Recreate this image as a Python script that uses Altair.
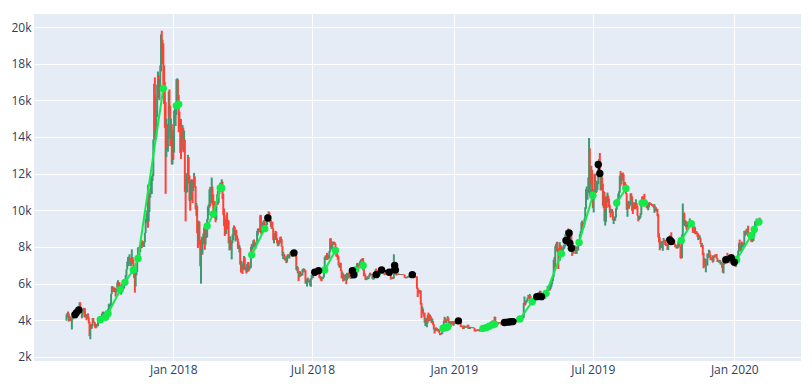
import altair as alt
import pandas as pd

# ---------------- daily candles (close / high / low), one row per month ----------------
START = "2017-08-15"
OPEN_FIRST = 4070

CLOSE = [
 4190,4380,4330,4160,4190,4090,4000,4090,4150,4350,4370,4350,4380,4380,4580,4570,4770,
 4950,4570,4600,4230,4380,4600,4600,4230,4230,4160,4190,4160,3880,3150,3640,3630,3680,4090,3910,3880,3610,3600,3790,3680,3930,3890,4210,4190,4160,4340,
 4400,4410,4310,4210,4320,4370,4440,4610,4770,4780,4820,5430,5640,5830,5680,5750,5600,5570,5700,6000,6010,5980,5900,5520,5750,5900,5780,5750,6150,6130,6470,
 6770,7080,7210,7380,7410,7020,7140,7460,7140,6620,6360,5950,6560,6640,7320,7870,7710,7790,8040,8200,8070,8250,8100,8250,8760,9320,9740,9910,9840,10060,
 10860,10910,11290,11650,11920,13750,16870,16130,14870,15060,16730,17280,16470,16620,17710,19500,19140,19110,17780,16620,15800,13830,14700,13930,13960,16100,15840,14610,14660,12950,14160,
 13660,14980,15200,15600,16900,17100,16300,15170,14600,14970,13410,13980,14360,13770,13820,11490,11190,11470,11610,12900,11600,10930,10870,11360,11260,11170,11440,11790,11300,10110,10230,
 9170,8830,9170,8200,6960,7750,7620,8270,8690,8620,8130,8930,8540,9480,10170,10230,11110,10400,11160,11230,10440,10000,10300,9810,9660,10370,10730,10400,
 10950,11090,11490,11510,11570,10770,9970,9400,9340,8870,9580,9210,9150,8260,8300,8340,7920,8220,8620,8920,8900,8720,8900,8550,8450,8170,7920,7950,7090,6840,6940,
 6810,7050,7420,6790,6770,6630,6910,7020,6770,6830,6940,7920,7890,8000,8360,8060,7900,8160,8290,8850,8920,8800,8940,9650,8860,9280,8990,9350,9390,9240,
 9070,9220,9740,9700,9860,9620,9370,9190,9310,9010,8420,8680,8720,8680,8470,8340,8060,8250,8250,8530,8420,8040,7560,7590,7480,7350,7370,7140,7470,7410,7490,
 7540,7640,7720,7510,7630,7650,7680,7620,7530,6790,6910,6580,6350,6640,6400,6510,6460,6710,6740,6770,6720,6050,6160,6180,6250,6090,6160,5900,6220,6400,
 6360,6620,6530,6600,6530,6600,6760,6720,6660,6310,6380,6250,6240,6270,6350,6740,7320,7380,7470,7330,7400,7400,7720,8400,8170,7930,8180,8230,8220,8180,7780,
 7620,7570,7430,7010,7030,6940,6720,6310,6540,6150,6240,6320,6260,6190,6270,6310,6580,6400,6490,6270,6490,6360,6530,6640,6720,6680,6930,7090,7040,6980,7040,
 7190,7270,7260,7370,6790,6530,6470,6230,6240,6290,6280,6330,6490,6480,6520,6500,6250,6340,6370,6490,6770,6720,6710,6590,6440,6470,6650,6640,6610,6630,
 6590,6540,6500,6590,6640,6600,6630,6670,6640,6590,6260,6280,6290,6280,6590,6600,6560,6500,6480,6490,6500,6490,6480,6490,6480,6480,6490,6490,6340,6330,6320,
 6370,6390,6360,6460,6420,6460,6530,6420,6360,6380,6390,6380,6350,5740,5650,5580,5560,5620,4870,4450,4600,4370,4310,3880,4010,3820,3860,4280,4280,4020,
 4210,4140,3870,3960,3760,3510,3420,3440,3560,3470,3420,3490,3320,3260,3240,3250,3550,3710,3860,4140,3890,4000,3990,4150,3880,3910,3650,3920,3820,3950,3740,
 3840,3940,3840,3860,3840,4080,4030,4040,4050,3700,3690,3650,3530,3680,3600,3630,3670,3630,3730,3550,3570,3630,3590,3620,3610,3600,3580,3440,3410,3460,3440,
 3470,3510,3420,3410,3430,3390,3380,3650,3650,3690,3620,3630,3620,3600,3620,3640,3670,3900,3910,3960,3920,3970,4140,3760,3830,3820,3830,3860,
 3860,3880,3850,3760,3900,3910,3930,3890,3960,3950,3890,3920,3910,3930,3960,4060,4020,4000,4030,4060,4000,4010,4020,4010,3920,3940,4080,4060,4120,4130,4120,
 4140,4880,4970,4910,5030,5050,5200,5320,5240,5320,5020,5070,5080,5170,5030,5230,5270,5300,5280,5330,5290,5400,5540,5460,5210,5280,5280,5270,5210,5350,
 5400,5500,5750,5830,5750,5700,5830,5980,6170,6360,7100,6840,7810,7990,8210,7880,7360,7260,8200,7990,7950,7630,7880,8000,8050,8670,8810,8720,8660,8270,8550,
 8560,8740,8210,7710,7820,7810,8000,7950,7630,8010,7920,8180,8230,8690,8840,8990,9320,9080,9270,9530,10140,10700,10860,11010,11780,13020,11180,12410,11980,10820,
 10580,10800,11960,11220,10980,11210,11470,12290,12570,12100,11350,11800,11390,10260,10890,9480,9690,10660,10530,10760,10600,10320,9910,9870,9990,9890,9480,9530,9510,9590,10090,
 10400,10520,10820,10980,11800,11460,11950,11970,11820,11290,11560,11380,10900,10050,10300,10360,10230,10320,10920,10760,10140,10130,10410,10140,10130,10370,10190,9720,9500,9580,9600,
 9770,10360,10620,10590,10580,10320,10490,10410,10340,10120,10160,10420,10360,10360,10310,10300,10240,10190,10280,10170,9990,10030,9700,8530,8430,8060,8200,8190,8040,8290,
 8340,8390,8230,8140,8130,7850,8210,8180,8590,8580,8260,8300,8280,8360,8150,8000,8090,7950,7960,8220,8240,8030,7470,7410,8660,9240,9550,9250,9430,9200,9200,
 9260,9310,9200,9410,9310,9360,9210,8800,8810,9040,8730,8820,8760,8640,8460,8490,8510,8200,8030,8080,7620,7280,7330,6910,7150,7170,7520,7430,7760,7570,
 7420,7320,7320,7250,7450,7550,7510,7540,7400,7230,7200,7240,7250,7070,7110,6880,6620,7280,7150,7190,7140,7510,7320,7260,7210,7200,7250,7320,7390,7250,7190,
 7200,6990,7340,7410,7410,7770,8160,8040,7820,8200,8020,8190,8110,8810,8820,8720,8930,8920,8710,8660,8740,8660,8390,8440,8370,8600,8910,9390,9290,9510,9350,
 9390,9340,9290,
]

HIGH = [
 4310,4400,4480,4370,4230,4200,4120,4150,4260,4380,4460,4390,4420,4400,4620,4640,4770,
 4980,4980,4720,4610,4450,4650,4680,4650,4320,4320,4330,4380,4160,3920,3750,3800,3760,4130,4120,3930,3890,3750,3800,3800,3980,3960,4210,4240,4220,4360,
 4470,4470,4430,4350,4360,4410,4470,4620,4880,4920,4870,5440,5860,5840,5840,5780,5770,5610,5710,6070,6190,6080,6070,5900,5770,5970,6000,5850,6190,6210,6470,
 6780,7200,7450,7480,7600,7400,7210,7870,7450,7310,6840,6500,6730,6780,7330,7970,8000,7850,8100,8280,8370,8300,8270,8320,8770,9520,9820,10000,11400,10200,
 10950,11190,11860,11660,11990,13860,16900,17250,16280,15500,16860,17570,17380,17160,17900,19600,19800,19300,19100,17900,17000,15900,15000,14700,14500,16500,16600,15700,15000,14700,14200,
 14410,15440,15570,15760,17150,17200,17150,16300,15390,14990,14980,14110,14660,14510,14350,13850,11680,12020,11840,13030,12900,11900,11570,11660,11700,11660,11620,12040,11850,11320,10400,
 10250,9150,9430,9380,8400,7880,8560,8510,8740,9070,8620,8990,8930,9520,10220,10320,11140,11280,11270,11790,11290,10870,10400,10500,9850,10420,10880,11060,
 11090,11090,11500,11520,11690,11570,10900,10100,9420,9530,9730,9890,9480,9440,8380,8580,8360,8280,8680,9050,9180,9100,8920,8940,8630,8470,8250,8110,7970,7250,7220,
 7010,7100,7510,7440,6930,6860,7070,7170,7180,6890,6990,8010,8160,8180,8360,8410,8170,8230,8290,8880,9000,9020,8960,9730,9750,9300,9300,9400,9470,9440,
 9250,9260,9790,9760,9950,9900,9670,9470,9370,9380,9030,8690,8760,8880,8840,8490,8360,8270,8380,8550,8570,8440,8040,7730,7630,7530,7400,7390,7530,7610,7560,
 7600,7700,7760,7750,7650,7700,7740,7690,7680,7540,6960,6920,6620,6680,6680,6550,6590,6780,6830,6820,6790,6730,6250,6250,6330,6270,6190,6170,6300,6480,
 6430,6650,6680,6790,6690,6650,6790,6790,6780,6680,6400,6390,6340,6300,6390,6740,7460,7540,7540,7680,7450,7560,7770,8460,8480,8310,8260,8290,8290,8270,8180,
 7800,7660,7580,7490,7060,7140,7140,6730,6620,6560,6460,6450,6520,6270,6590,6440,6590,6620,6540,6540,6500,6850,6550,6740,6790,6730,6940,7110,7140,7060,7080,
 7220,7310,7340,7390,7390,6790,6580,6480,6330,6340,6410,6340,6510,6600,6540,6530,6510,6390,6460,6540,6770,6820,6740,6710,6600,6540,6680,6780,6660,6640,
 6640,6600,6560,6590,6680,6640,6650,6740,6680,6650,6590,6320,6320,6370,7600,6710,6610,6570,6520,6510,6560,6520,6500,6520,6510,6500,6500,6500,6490,6360,6350,
 6380,6410,6400,6460,6480,6480,6550,6540,6440,6390,6400,6400,6400,6390,5780,5680,5590,5650,5620,4960,4750,4630,4390,4420,4120,4140,3900,4300,4420,4320,
 4310,4240,4140,4090,3960,3790,3530,3570,3620,3580,3480,3530,3490,3320,3270,3310,3640,3750,3980,4190,4140,4010,4050,4230,4150,3970,3910,3960,3940,3970,3960,
 3850,3950,3940,3870,3900,4090,4120,4110,4080,4070,3720,3700,3650,3720,3700,3660,3670,3680,3760,3750,3590,3640,3640,3630,3620,3620,3610,3580,3440,3480,3500,
 3480,3510,3510,3430,3440,3440,3410,3700,3680,3690,3690,3640,3650,3650,3640,3680,3680,3910,3950,3990,3970,3980,4200,4190,3860,3840,3870,3900,
 3880,3890,3880,3850,3910,3930,3960,3940,3970,3970,3950,3930,3930,3960,3970,4080,4070,4040,4040,4080,4080,4030,4040,4040,4010,3950,4090,4090,4130,4140,4140,
 4160,4950,5300,5050,5060,5120,5240,5390,5320,5440,5330,5100,5100,5170,5190,5240,5280,5350,5330,5330,5340,5420,5620,5590,5480,5320,5340,5310,5300,5370,
 5440,5540,5860,5880,5850,5800,5950,6000,6180,6410,7310,7450,8050,8170,8270,8290,7950,7380,8260,8100,8050,7980,7950,8130,8110,8680,8900,8820,8740,9010,8580,
 8600,8790,8740,8210,7900,7900,8100,8050,7970,8030,8020,8200,8290,8700,8860,9340,9440,9340,9290,9550,10170,11160,11300,11080,11790,13950,13380,12410,12430,12200,
 11160,10900,11960,12010,11430,11610,11530,12370,12800,13130,12100,11900,11830,11450,11050,11000,9990,10740,10800,10970,10810,10630,10300,10020,10090,10070,9940,9560,9620,9680,10110,
 10450,10640,10910,11040,11890,12140,11980,12030,12060,11970,11560,11540,11420,10920,10440,10520,10430,10480,10920,10930,10760,10230,10450,10420,10290,10600,10400,10250,9720,9650,9690,
 9850,10430,10740,10780,10630,10900,10520,10580,10450,10370,10200,10430,10440,10400,10370,10340,10300,10290,10340,10220,10170,10080,10080,9800,8750,8530,8270,8320,8230,8320,
 8490,8400,8390,8240,8170,8140,8300,8330,8630,8640,8800,8400,8420,8390,8370,8160,8120,8110,8080,8300,8320,8250,8050,7490,8680,10370,9790,9880,9460,9430,9380,
 9270,9370,9350,9560,9460,9420,9370,9220,8860,9130,9070,8850,8860,8780,8740,8540,8640,8510,8210,8220,8110,7690,7390,7360,7300,7320,7640,7630,7850,7800,
 7570,7430,7380,7540,7490,7560,7590,7570,7620,7400,7270,7260,7300,7260,7180,7140,6930,7360,7380,7230,7180,7520,7680,7330,7290,7280,7290,7360,7520,7400,7320,
 7250,7210,7410,7430,7540,7790,8210,8400,8050,8220,8290,8200,8200,8880,8890,8840,9000,8980,9160,8730,8760,8780,8670,8520,8440,8600,8950,9400,9400,9550,9520,
 9470,9470,9600,
]

LOW = [
 3980,4150,4230,3930,3980,4060,3950,3500,4040,4130,4340,4320,4320,4330,4360,4500,4560,
 4760,4480,4380,4110,4170,4380,4520,4160,4140,4000,4140,4090,3830,3140,2970,3530,3540,3690,3860,3870,3600,3560,3600,3670,3680,3860,3880,4170,4060,4130,
 4310,4360,4260,4170,4170,4300,4320,4440,4560,4700,4760,4820,5430,5560,5540,5570,5530,5300,5520,5630,5860,5760,5690,5500,5400,5700,5720,5700,5730,6070,6110,
 6380,6760,6960,7060,7280,6950,6950,7100,7070,6530,6300,5510,5840,6450,6640,7310,7500,7530,7730,8020,7940,8070,8040,8000,8250,8760,9320,9680,9050,9380,
 9910,10690,10880,10890,11600,11870,13800,14380,13900,13990,15100,16500,16100,16000,16580,17580,18800,18000,16800,15800,14500,10900,12900,13400,13200,13900,15200,13500,13900,12500,12500,
 12750,13150,14840,14600,15200,16670,16000,14260,14500,13130,12800,13290,13930,13170,13410,11010,9400,10940,11000,11600,11460,10520,9980,10530,11090,10400,11050,11440,11240,10050,9700,
 8750,7940,8300,8130,6950,6000,7570,7600,8160,8180,7850,8130,8490,8530,9480,9740,10150,10220,10400,11070,10300,9800,9700,9570,9350,9470,10350,10300,
 10400,10880,11080,11170,11390,10620,9730,9140,8600,8700,8710,8970,9020,8200,7810,7920,7840,7320,8210,8370,8830,8620,8300,8510,8370,7900,7900,7700,7040,6600,6800,
 6530,6750,7040,6760,6710,6550,6620,6930,6660,6750,6830,6860,7780,7870,8010,7980,7880,7900,8150,8290,8630,8790,8820,8930,8730,8670,8980,8950,9170,9200,
 8890,8940,9200,9520,9660,9510,9330,9090,8990,9000,8370,8200,8560,8380,8440,8200,8040,8050,8160,8210,8340,8010,7500,7340,7390,7270,7270,7120,7160,7370,7410,
 7370,7530,7640,7470,7460,7570,7640,7600,7510,6750,6700,6570,6140,6340,6380,6410,6430,6450,6690,6610,6710,6000,6020,5840,6130,6080,6040,5890,5830,6220,
 6300,6320,6510,6460,6490,6510,6560,6700,6650,6300,6290,6170,6130,6240,6260,6350,6690,7280,7300,7290,7310,7370,7380,7710,8060,7860,7880,8120,8130,8140,7760,
 7480,7460,7300,6990,6880,6860,6690,6290,6290,6120,6150,6230,6210,5970,6180,6270,6300,6380,6330,6250,6260,6350,6340,6480,6670,6640,6670,6890,6990,6900,6950,
 7020,7140,7240,7240,6730,6400,6410,6200,6190,6230,6240,6250,6330,6430,6480,6470,6240,6230,6230,6370,6490,6680,6680,6580,6360,6390,6460,6600,6540,6560,
 6570,6520,6460,6500,6570,6580,6590,6620,6630,6550,6220,6250,6270,6260,6280,6570,6530,6450,6460,6470,6480,6480,6470,6470,6470,6460,6470,6470,6320,6300,6290,
 6300,6340,6330,6350,6390,6400,6450,6400,6340,6350,6340,6340,6330,5720,5270,5530,5460,5540,4860,4120,4420,4360,4200,3870,3690,3780,3620,3840,4140,3940,
 3970,4090,3850,3840,3750,3490,3280,3400,3440,3450,3390,3420,3310,3190,3220,3230,3250,3510,3700,3860,3860,3850,3970,3990,3830,3830,3640,3650,3800,3820,3710,
 3710,3820,3820,3790,3830,3810,4020,4000,4020,3640,3630,3630,3520,3520,3580,3600,3600,3620,3620,3530,3540,3520,3580,3580,3570,3590,3570,3410,3380,3400,3430,
 3420,3460,3400,3400,3410,3380,3370,3370,3620,3630,3610,3590,3600,3580,3580,3610,3640,3650,3860,3870,3900,3910,3930,3740,3750,3790,3760,3800,
 3830,3840,3830,3730,3760,3880,3890,3880,3890,3920,3870,3880,3890,3880,3920,3960,4000,3980,3990,4020,3990,4000,4000,3990,3890,3910,3930,4030,4050,4110,4100,
 4100,4130,4830,4810,4920,4990,5050,5180,5180,5200,4980,4950,5050,5060,5000,5020,5200,5250,5260,5250,5250,5270,5370,5430,5170,5110,5250,5230,5180,5190,
 5340,5390,5500,5620,5710,5620,5700,5810,5960,6140,6350,6830,6840,7770,7960,7720,6800,7250,7250,7640,7850,7620,7540,7860,7920,8030,8680,8630,8550,8190,8240,
 8450,8530,8190,7510,7640,7630,7800,7870,7620,7630,7830,7810,8180,8160,8630,8830,8980,9010,9060,9230,9520,10080,10600,10580,10960,11710,10790,10650,11420,10750,
 10120,9880,10780,11140,10940,10990,11110,11420,12140,11920,11080,11120,11090,10250,10120,9400,9170,9370,10130,10410,10480,10170,9860,9610,9820,9860,9460,9250,9440,9430,9600,
 10030,10350,10520,10580,10960,11330,11440,11620,11740,11200,11090,11290,10890,10020,9650,10140,10080,10220,10320,10620,9970,9800,10090,10050,10070,10130,10080,9700,9400,9480,9520,
 9600,9760,10370,10470,10490,10240,10310,10390,10120,10090,10000,10160,10290,10330,10280,10240,10210,10150,9860,10130,9950,9930,9680,8510,8250,7820,7920,8140,7950,7790,
 8240,8270,8110,8050,8090,7840,7830,8130,8160,8490,8240,8240,8200,8240,8130,7980,7980,7910,7920,7940,8170,8010,7390,7360,7400,8610,9210,9190,9140,9080,8930,
 9070,9190,9150,9170,9260,9260,9180,8770,8760,8800,8700,8700,8700,8560,8380,8420,8440,8180,7990,8020,7560,6840,7150,6900,6620,7070,6980,7400,7430,7560,
 7280,7290,7260,7150,7200,7420,7480,7440,7370,7180,7180,7140,7220,7050,7040,6870,6600,6560,7050,7120,7130,7130,7300,7170,7140,7190,7100,7240,7290,7240,7150,
 7170,6930,6910,7320,7380,7410,7740,7880,7770,7760,7990,7970,8080,8110,8590,8650,8720,8840,8570,8520,8570,8580,8290,8260,8300,8330,8580,8900,9240,9220,9250,
 9340,9270,9200,
]

# ---------------- signal markers ----------------
GREEN_DATE = [
 "2017-09-28","2017-10-05","2017-10-08","2017-10-24","2017-10-30","2017-11-10","2017-11-16","2017-12-19",
 "2018-01-05","2018-01-08",
 "2018-02-14","2018-02-22","2018-03-03","2018-03-05",
 "2018-04-13","2018-04-30",
 "2018-07-17","2018-07-31",
 "2018-08-26","2018-09-05",
 "2018-12-18","2018-12-20","2018-12-22","2018-12-24",
 "2019-02-08","2019-02-12","2019-02-16","2019-02-20","2019-02-23",
 "2019-03-28","2019-04-13","2019-05-01","2019-05-21",
 "2019-06-13","2019-07-01",
 "2019-08-01","2019-08-13",
 "2019-09-03","2019-09-06",
 "2019-10-24","2019-11-06",
 "2020-01-04","2020-01-23","2020-01-27","2020-02-02",
]
GREEN_PRICE = [
 4030,4160,4370,5670,6070,6750,7370,16650,
 15710,15790,
 9140,9800,11220,11220,
 7570,9000,
 6750,7810,
 6750,6990,
 3570,3600,3620,3640,
 3560,3600,3680,3750,3790,
 4070,5010,5470,7630,
 8250,10820,
 10400,11190,
 10400,10400,
 8360,9270,
 7300,8630,8960,9360,
]
GREEN_GROUP = [
 1,1,1,1,1,1,1,1,
 2,2,
 3,3,3,3,
 4,4,
 5,5,
 6,6,
 7,7,7,7,
 8,8,8,8,8,
 9,9,9,9,
 10,10,
 11,11,
 12,12,
 13,13,
 14,14,14,14,
]

BLACK_DATE = [
 "2017-08-26","2017-08-28","2017-08-31",
 "2018-05-04",
 "2018-06-07",
 "2018-07-04","2018-07-09",
 "2018-08-22","2018-08-24",
 "2018-09-22","2018-09-29","2018-10-09","2018-10-16","2018-10-17",
 "2018-11-08",
 "2019-01-07",
 "2019-03-08","2019-03-12","2019-03-16","2019-03-19",
 "2019-04-19","2019-04-22","2019-04-25",
 "2019-05-27","2019-05-31","2019-06-01","2019-06-03",
 "2019-07-08","2019-07-10",
 "2019-10-09","2019-10-11",
 "2019-12-21","2019-12-28","2020-01-01",
]
BLACK_PRICE = [
 4300,4420,4560,
 9580,
 7680,
 6620,6710,
 6710,6480,
 6490,6750,6620,6990,6750,
 6490,
 3970,
 3880,3900,3920,3930,
 5290,5310,5290,
 8360,8760,8210,7930,
 12500,12010,
 8390,8300,
 7300,7410,7170,
]
BLACK_GROUP = [
 1,1,1,
 2,
 3,
 4,4,
 5,5,
 6,6,6,6,6,
 7,
 8,
 9,9,9,9,
 10,10,10,
 11,11,11,11,
 12,12,
 13,13,
 14,14,14,
]

Y_TICKS = [2000, 4000, 6000, 8000, 10000, 12000, 14000, 16000, 18000, 20000]

n = len(CLOSE)
if not (len(HIGH) == n and len(LOW) == n):
    raise SystemExit(f"length mismatch close={n} high={len(HIGH)} low={len(LOW)}")

dates = pd.date_range(START, periods=n, freq="D").strftime("%Y-%m-%d")
opens = [OPEN_FIRST] + CLOSE[:-1]
candles = pd.DataFrame({"date": dates, "open": opens, "close": CLOSE, "high": HIGH, "low": LOW})
candles["dir"] = ["up" if c > o else "down" for o, c in zip(candles["open"], candles["close"])]

green = pd.DataFrame({"date": GREEN_DATE, "price": GREEN_PRICE, "grp": GREEN_GROUP})
black = pd.DataFrame({"date": BLACK_DATE, "price": BLACK_PRICE, "grp": BLACK_GROUP})

xscale = alt.Scale(
    type="utc",
    domain=[alt.DateTime(year=2017, month=7, date=3, hours=17, utc=True),
            alt.DateTime(year=2020, month=3, date=27, hours=19, utc=True)],
    nice=False,
)
xaxis = alt.Axis(
    values=[alt.DateTime(year=y, month=m, date=1, utc=True)
            for y, m in [(2018, 1), (2018, 7), (2019, 1), (2019, 7), (2020, 1)]],
    format="%b %Y", title=None, labelAngle=0, labelPadding=3,
)
yscale = alt.Scale(domain=[1780, 20710], nice=False, zero=False)
yaxis = alt.Axis(values=Y_TICKS, format="~s", title=None, labelPadding=3)

X = alt.X("date:T", scale=xscale, axis=xaxis)

candle_layer = alt.Chart(candles).mark_rule(strokeWidth=2).encode(
    x=X,
    y=alt.Y("low:Q", scale=yscale, axis=yaxis),
    y2="high:Q",
    color=alt.Color("dir:N", scale=alt.Scale(domain=["up", "down"], range=["#3D9970", "#FF4136"]), legend=None),
)

GREEN_C = "#12ea4a"

g_line = alt.Chart(green).mark_line(color=GREEN_C, strokeWidth=2).encode(
    x=X, y=alt.Y("price:Q", scale=yscale, axis=yaxis), detail="grp:N", order="date:T")
g_pts = alt.Chart(green).mark_point(filled=True, color=GREEN_C, size=55, opacity=1).encode(
    x=X, y=alt.Y("price:Q", scale=yscale, axis=yaxis))
b_line = alt.Chart(black).mark_line(color="#000000", strokeWidth=2).encode(
    x=X, y=alt.Y("price:Q", scale=yscale, axis=yaxis), detail="grp:N", order="date:T")
b_pts = alt.Chart(black).mark_point(filled=True, color="#000000", size=55, opacity=1).encode(
    x=X, y=alt.Y("price:Q", scale=yscale, axis=yaxis))

chart = alt.layer(candle_layer, g_line, g_pts, b_line, b_pts).properties(
    width=767, height=347,
    padding={"left": 26, "top": 6, "right": 3, "bottom": 22},
    autosize=alt.AutoSizeParams(type="none"),
    background="white",
).configure_view(
    fill="#E5ECF6", stroke=None,
).configure_axis(
    grid=True, gridColor="white", gridWidth=1, gridOpacity=1,
    domain=False, ticks=False, tickSize=0,
    labelFont="Open Sans", labelFontSize=12, labelColor="#2a3f5f",
)

chart.save("out.html", embed_options={"renderer": "svg", "actions": False})
